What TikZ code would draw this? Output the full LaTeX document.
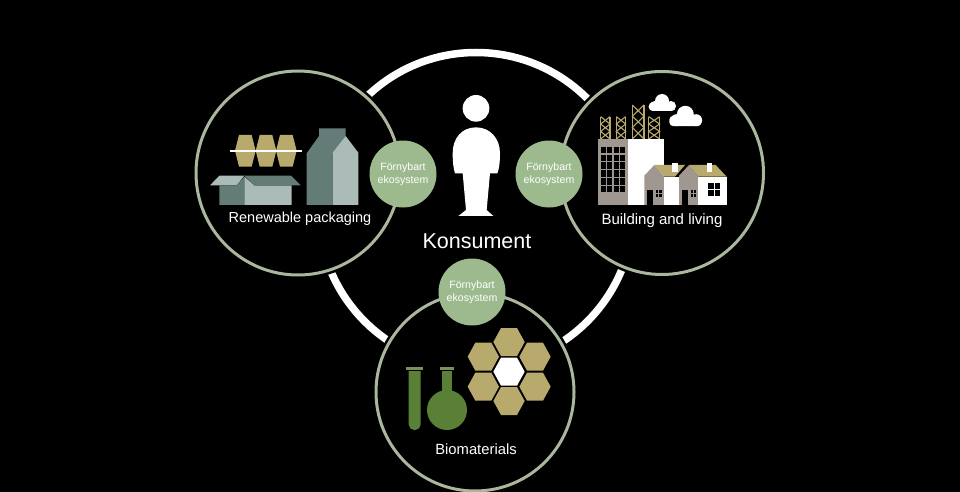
\documentclass[tikz,border=0pt]{standalone}
\usepackage{fontspec}
\setmainfont{Liberation Sans}
\definecolor{ringc}{HTML}{AAB79C}
\definecolor{leaf}{HTML}{9DBA8E}
\definecolor{khaki}{HTML}{B8A96C}
\definecolor{slate}{HTML}{647C78}
\definecolor{pale}{HTML}{ABBBB8}
\definecolor{stone}{HTML}{A09890}
\definecolor{moss}{HTML}{5A7F36}
\definecolor{mosscap}{HTML}{7C8F5C}
\tikzset{
 x=1pt,y=-1pt,
 hub/.style={circle,draw=white,line width=7.5pt,minimum size=315pt,inner sep=0,fill=black},
 area/.style={circle,draw=ringc,line width=3pt,fill=black,inner sep=0,preaction={draw=black,line width=8pt}},
 badge/.style={circle,fill=leaf,text=white,minimum size=67pt,inner sep=0,align=center,font=\fontsize{10.6pt}{13pt}\selectfont},
 captext/.style={text=white,font=\fontsize{15pt}{18pt}\selectfont,inner sep=0},
 lat/.style={draw=khaki}
}
\newcommand{\hexat}[3][khaki]{\fill[#1] (#2-47,#3) -- (#2-24,#3-42) -- (#2+24,#3-42) -- (#2+47,#3) -- (#2+24,#3+42) -- (#2-24,#3+42) -- cycle;}
\newcommand{\eggat}[1]{\fill[khaki] (#1,122) -- (#1+12,75) -- (#1+50,75) -- (#1+62,122) -- (#1+50,170) -- (#1+12,170) -- cycle;}
\newcommand{\latticeat}[4]{% x0 x1 y0 y1
 \draw[lat,line width=1.4pt] (#1,#3) -- (#1,#4) (#2,#3) -- (#2,#4);
 \draw[lat,line width=1.1pt] (#1,#3) -- (#2,#3+.33*#4-.33*#3) -- (#1,#3+.66*#4-.66*#3) -- (#2,#4)
   (#2,#3) -- (#1,#3+.33*#4-.33*#3) -- (#2,#3+.66*#4-.66*#3) -- (#1,#4);}
\newcommand{\cloudat}[3]{\begin{scope}[shift={(#1,#2)},scale=#3]
 \fill[white,rounded corners=4pt] (-40,-13) rectangle (40,13);
 \fill[white] (0,-17) circle (21) (-22,-2) circle (15) (27,-2) circle (15);
 \end{scope}}
\begin{document}
\begin{tikzpicture}
\useasboundingbox (0,0) rectangle (960,492);
\fill[black] (0,0) rectangle (960,492);
\clip (0,0) rectangle (960,492);
\node[hub] (hub) at (476,210) {};
\node[area,minimum size=204pt] (left) at (298,173) {};
\node[area,minimum size=203pt] (right) at (662,173) {};
\node[area,minimum size=198pt] (bottom) at (475,392) {};
\node[badge] (b1) at (403,174) {Förnybart\\ekosystem};
\node[badge] (b2) at (549,174) {Förnybart\\ekosystem};
\node[badge] (b3) at (472,292) {Förnybart\\ekosystem};
\node[text=white,inner sep=0,font=\fontsize{21.5pt}{24pt}\selectfont] (kons) at (477,241) {Konsument};
\node[captext,font=\fontsize{14.5pt}{18pt}\selectfont] (c1) at (300,219) {Renewable packaging};
\node[captext] (c2) at (662,221) {Building and living};
\node[captext,font=\fontsize{14.8pt}{18pt}\selectfont] (c3) at (476,449) {Biomaterials};
% person
\begin{scope}[shift={(440,85)},scale=1/3]
 \fill[white] (108,70) circle (40);
 \fill[white] (108,127) .. controls (65,127) and (38,160) .. (38,205) .. controls (38,230) and (40,250) .. (45,265) -- (68,265) -- (78,375) -- (55,393) -- (160,393) -- (140,375) -- (150,265) -- (172,265) .. controls (178,250) and (180,230) .. (180,205) .. controls (180,160) and (150,127) .. (108,127) -- cycle;
\end{scope}
% packaging
\begin{scope}[shift={(195,110)},scale=1/3]
 \eggat{120}\eggat{182}\eggat{243}
 \fill[white] (105,119) rectangle (322,125);
 \fill[pale] (45,226) -- (73,197) -- (148,197) -- (125,226) -- cycle;
 \fill[slate] (73,226) -- (125,226) -- (148,200) -- (148,285) -- (73,285) -- cycle;
 \fill[pale] (148,200) -- (178,226) -- (290,226) -- (290,285) -- (148,285) -- cycle;
 \fill[slate] (148,197) -- (288,197) -- (317,226) -- (178,226) -- cycle;
 \fill[slate] (335,130) -- (372,78) -- (372,55) -- (452,55) -- (452,78) -- (413,130) -- (413,285) -- (335,285) -- cycle;
 \fill[pale] (413,128) -- (452,78) -- (490,128) -- (490,285) -- (413,285) -- cycle;
\end{scope}
% building
\begin{scope}[shift={(585,85)},scale=1/3]
 \latticeat{47}{75}{95}{162}
 \latticeat{94}{122}{95}{162}
 \latticeat{142}{177}{60}{162}
 \latticeat{191}{224}{95}{162}
 \fill[stone] (40,162) rectangle (128,360);
 \fill[white] (128,162) rectangle (238,360);
 \foreach \i in {0,1,2,3}\foreach \j in {0,1,2,3,4,5}
   \fill[black] (47+\i*19.3,185+\j*23.7) rectangle +(15,19);
 \cloudat{231}{65}{1}
 \cloudat{301}{108}{1.2}
 \fill[stone] (178,272) -- (208,240) -- (238,275) -- (238,360) -- (178,360) -- cycle;
 \fill[white] (238,275) rectangle (283,360);
 \fill[khaki] (208,240) -- (300,240) -- (270,275) -- (238,275) -- cycle;
 \fill[white] (262,234) rectangle (278,260);
 \fill[black] (186,315) rectangle (205,360);
 \fill[black] (213,315) rectangle (230,337);
 \draw[stone,line width=.7pt] (221.5,315) -- (221.5,337) (213,326) -- (230,326);
 \fill[stone] (282,272) -- (312,240) -- (340,275) -- (340,360) -- (282,360) -- cycle;
 \fill[white] (340,275) rectangle (425,360);
 \fill[khaki] (312,240) -- (392,240) -- (425,275) -- (340,275) -- cycle;
 \fill[white] (366,234) rectangle (382,260);
 \fill[black] (290,315) rectangle (308,360);
 \fill[black] (317,315) rectangle (333,337);
 \draw[stone,line width=.7pt] (325,315) -- (325,337) (317,326) -- (333,326);
 \fill[black] (369,295) rectangle (406,332);
 \draw[white,line width=1pt] (387.5,295) -- (387.5,332) (369,313.5) -- (406,313.5);
\end{scope}
% biomaterials
\begin{scope}[shift={(395,320)},scale=1/3]
 \fill[moss,rounded corners=5.5pt] (41,135) -- (41,330) -- (77,330) -- (77,135) -- cycle;
 \fill[black] (30,135) rectangle (90,154);
 \fill[mosscap] (34,140) rectangle (84,150);
 \fill[mosscap] (135,140) rectangle (176,149);
 \fill[moss] (140,153) rectangle (172,225);
 \fill[moss] (156,270) circle (60);
 \hexat{342}{66}\hexat{342}{243}
 \hexat{265}{110}\hexat{420}{110}\hexat{265}{200}\hexat{420}{200}
 \hexat[white]{342}{155}
\end{scope}
\end{tikzpicture}
\end{document}
